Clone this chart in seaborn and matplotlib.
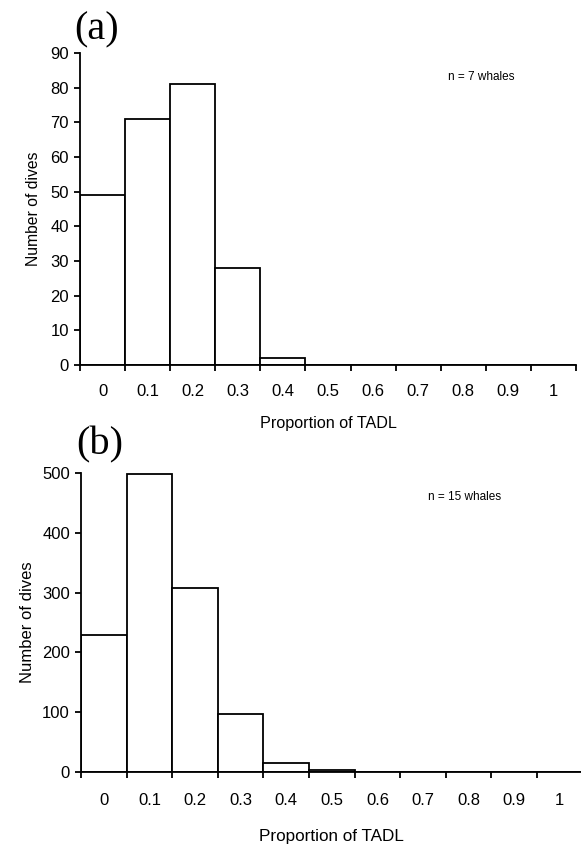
import numpy as np
import pandas as pd
import matplotlib
matplotlib.use('Agg')
import matplotlib.pyplot as plt
import seaborn as sns

# 데이터: TADL 비율 구간별 잠수 횟수
tadl_bins = ['0', '0.1', '0.2', '0.3', '0.4', '0.5', '0.6', '0.7', '0.8', '0.9', '1']
dives_a = [49, 71, 81, 28, 2, 0, 0, 0, 0, 0, 0]
dives_b = [229, 499, 308, 97, 15, 4, 0, 0, 0, 0, 0]
panel_labels = ['(a)', '(b)']
whale_notes = ['n = 7 whales', 'n = 15 whales']
y_limits = [90, 500]
y_steps = [10, 100]

sns.set_style('ticks')
plt.rcParams['font.family'] = ['Liberation Sans Narrow', 'Liberation Sans', 'DejaVu Sans']
plt.rcParams['axes.linewidth'] = 1.3
for key in ['text.color', 'axes.labelcolor', 'xtick.color', 'ytick.color', 'axes.edgecolor']:
    plt.rcParams[key] = 'black'

fig = plt.figure(figsize=(5.81, 8.48), dpi=100)
ax_a = fig.add_axes([0.1377, 0.5696, 0.8537, 0.3679])
ax_b = fig.add_axes([0.1394, 0.0896, 0.8634, 0.3526])

def draw_panel(ax, values, ymax, ystep, tick_pad, xlabel_pad, ylabel_pad, label_size):
    df = pd.DataFrame({'bin': tadl_bins, 'dives': values})
    sns.barplot(data=df, x='bin', y='dives', order=tadl_bins, width=1,
                color='white', saturation=1, edgecolor='black', linewidth=1.3, ax=ax)
    ax.set_xlim(-0.5, len(tadl_bins) - 0.5)
    ax.set_ylim(0, ymax)
    ax.set_yticks(np.arange(0, ymax + 1, ystep))
    ax.set_xticks(np.arange(-0.5, len(tadl_bins), 1), minor=True)
    ax.tick_params(axis='x', which='major', length=0, pad=tick_pad, labelsize=12)
    ax.tick_params(axis='x', which='minor', length=4, width=1.3, direction='out')
    ax.tick_params(axis='y', length=4, width=1.3, direction='out', pad=4, labelsize=12)
    ax.set_xlabel('Proportion of TADL', fontsize=label_size, labelpad=xlabel_pad)
    ax.set_ylabel('Number of dives', fontsize=label_size - 0.3, labelpad=ylabel_pad)
    sns.despine(ax=ax)

draw_panel(ax_a, dives_a, y_limits[0], y_steps[0], 14, 12, 7, 11.6)
draw_panel(ax_b, dives_b, y_limits[1], y_steps[1], 15, 15, 5, 12.3)

# 패널 라벨과 표본 수
fig.text(97 / 581, 1 - 30 / 848, panel_labels[0], family='Liberation Serif',
         fontsize=29, ha='center', va='center')
fig.text(100 / 581, 1 - 445 / 848, panel_labels[1], family='Liberation Serif',
         fontsize=29, ha='center', va='center')
fig.text(448 / 581, 1 - 77 / 848, whale_notes[0], fontsize=8.5, ha='left', va='center')
fig.text(428 / 581, 1 - 497 / 848, whale_notes[1], fontsize=8.5, ha='left', va='center')

fig.savefig('out.png', dpi=100)
